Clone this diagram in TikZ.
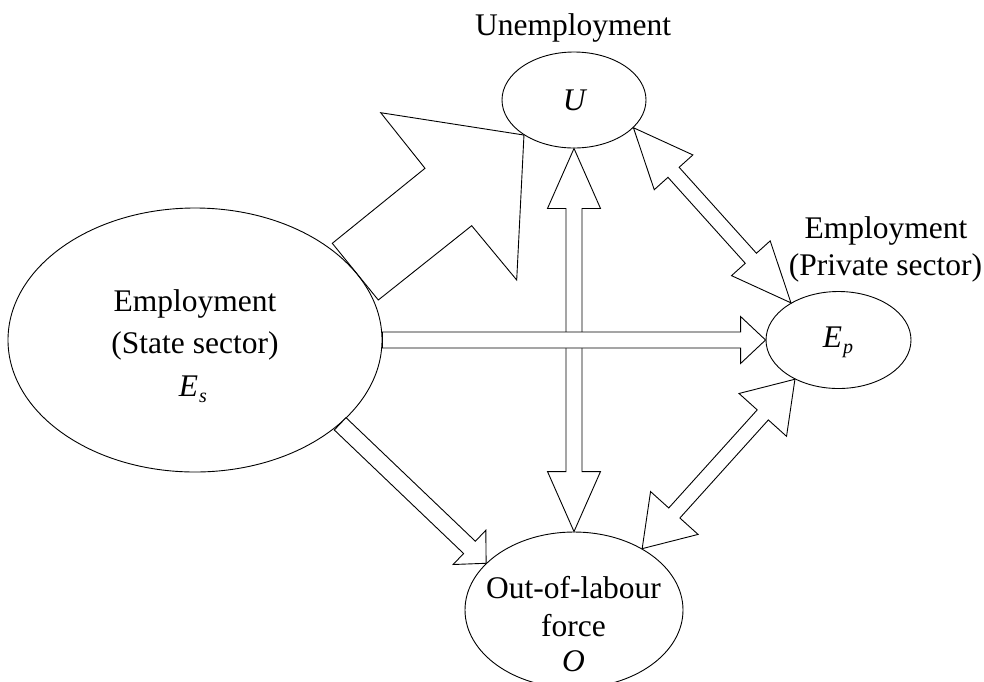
\documentclass[tikz,border=0pt]{standalone}
\usepackage{fontspec}
\setmainfont{Liberation Serif}
\usetikzlibrary{shapes.geometric,calc}
\tikzset{
  ell/.style={draw, ellipse, inner sep=0pt, line width=0.9pt},
  lbl/.style={font=\fontsize{31.5}{40}\selectfont, anchor=base, inner sep=0pt},
  blk/.style={draw, line width=0.9pt, line join=miter, fill=white},
  blkopen/.style={draw, line width=0.9pt, line join=miter},
}
\newcommand\subtxt[1]{\kern1pt\raisebox{-0.22em}{\fontsize{20}{20}\selectfont\itshape #1}}
% double block arrow: #1 A, #2 B, #3 shaft half width, #4 head length, #5 head half width
\newcommand\dblarrow[5]{%
  \path ($(#1)!#4!(#2)$) coordinate (ha) ($(#2)!#4!(#1)$) coordinate (hb);
  \draw[blk] (#1) -- ($(ha)!#5!90:(#2)$) -- ($(ha)!#3!90:(#2)$) -- ($(hb)!#3!-90:(#1)$)
    -- ($(hb)!#5!-90:(#1)$) -- (#2) -- ($(hb)!#5!90:(#1)$) -- ($(hb)!#3!90:(#1)$)
    -- ($(ha)!#3!-90:(#2)$) -- ($(ha)!#5!-90:(#2)$) -- cycle;
}
% single block arrow from A to B
\newcommand\sglarrow[5]{%
  \path ($(#2)!#4!(#1)$) coordinate (hb);
  \draw[blk] ($(#1)!#3!90:(#2)$) -- ($(hb)!#3!-90:(#1)$) -- ($(hb)!#5!-90:(#1)$) -- (#2)
    -- ($(hb)!#5!90:(#1)$) -- ($(hb)!#3!90:(#1)$) -- ($(#1)!#3!-90:(#2)$) -- cycle;
}
\begin{document}
\begin{tikzpicture}[x=1pt,y=-1pt]
\useasboundingbox (0,0) rectangle (984,681);
\clip (0,0) rectangle (984,681);
\fill[white] (0,0) rectangle (984,681);

% ellipses
\node[ell, minimum width=374pt, minimum height=264pt] (Es) at (195,340) {};
\node[ell, minimum width=144pt, minimum height=96pt] (U) at (574,100) {};
\node[ell, minimum width=145pt, minimum height=97pt] (Ep) at (838.5,340) {};
\node[ell, minimum width=218pt, minimum height=156pt] (O) at (574,610) {};

% arrows
\dblarrow{U.south}{O.north}{8pt}{60pt}{26.5pt}
\sglarrow{Es.east}{Ep.west}{8pt}{25pt}{23.5pt}
\dblarrow{U.-25.4}{Ep.142.7}{7.5pt}{60pt}{26pt}
\dblarrow{Ep.-138}{O.42}{7.5pt}{48pt}{32pt}
\sglarrow{Es.-30.5}{O.152}{8.5pt}{23pt}{23.7pt}

% big zigzag arrow Es -> U
\coordinate (T) at (U.215);
\draw[blkopen] (380.7,112.7) -- (T) -- (516.7,280) -- (471.7,225.7) -- (378.3,300)
  -- (332.3,243.3) -- (425,168.3) -- cycle;

% labels
\node[lbl] (tU) at (573,35) {Unemployment};
\node[lbl] (tUs) at (575,110) {\textit{U}};
\node[lbl] (tEs1) at (195,311) {Employment};
\node[lbl] (tEs2) at (195,353) {(State sector)};
\node[lbl] (tEs3) at (193,396) {\textit{E}\subtxt{s}};
\node[lbl] (tEp1) at (886,238) {Employment};
\node[lbl] (tEp2) at (885.5,275) {(Private sector)};
\node[lbl] (tEp3) at (838,347) {\textit{E}\subtxt{p}};
\node[lbl] (tO1) at (573.5,598) {Out-of-labour};
\node[lbl] (tO2) at (573.5,636) {force};
\node[lbl] (tO3) at (573.5,671) {\textit{O}};
\end{tikzpicture}
\end{document}
